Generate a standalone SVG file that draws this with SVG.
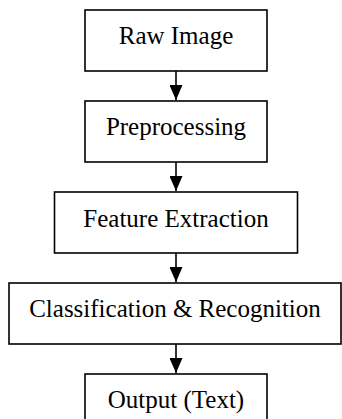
<svg xmlns="http://www.w3.org/2000/svg" width="342" height="419" viewBox="0 0 342 419">
<style>
.box{fill:#fff;stroke:#000;stroke-width:1.6}
.lbl{font-family:"Liberation Serif","Times New Roman",serif;font-size:25px;fill:#000;text-anchor:middle}
.conn line{stroke:#000;stroke-width:1.6}
</style>
<defs>
<marker id="ah" markerWidth="15" markerHeight="13" refX="15" refY="6.5" orient="auto" markerUnits="userSpaceOnUse" viewBox="0 0 15 13">
<path d="M0,0 L15,6.5 L0,13 Z" fill="#000"/>
</marker>
</defs>
<rect width="342" height="419" fill="#fff"/>
<g id="raw-image"><rect class="box" x="85" y="10" width="182" height="61"/><text class="lbl" x="176" y="44">Raw Image</text></g>
<g id="preprocessing"><rect class="box" x="85" y="101" width="182" height="61"/><text class="lbl" x="176" y="135">Preprocessing</text></g>
<g id="feature-extraction"><rect class="box" x="54.5" y="192" width="243" height="61"/><text class="lbl" x="176" y="226.5">Feature Extraction</text></g>
<g id="classification"><rect class="box" x="9" y="283" width="332" height="61"/><text class="lbl" x="175" y="317">Classification &amp; Recognition</text></g>
<g id="output"><rect class="box" x="85" y="374" width="182" height="61"/><text class="lbl" x="176" y="408">Output (Text)</text></g>
<g class="conn">
<line x1="176" y1="71" x2="176" y2="100" marker-end="url(#ah)"/>
<line x1="176" y1="162" x2="176" y2="191" marker-end="url(#ah)"/>
<line x1="176" y1="253" x2="176" y2="282" marker-end="url(#ah)"/>
<line x1="176" y1="344" x2="176" y2="373" marker-end="url(#ah)"/>
</g>
</svg>
